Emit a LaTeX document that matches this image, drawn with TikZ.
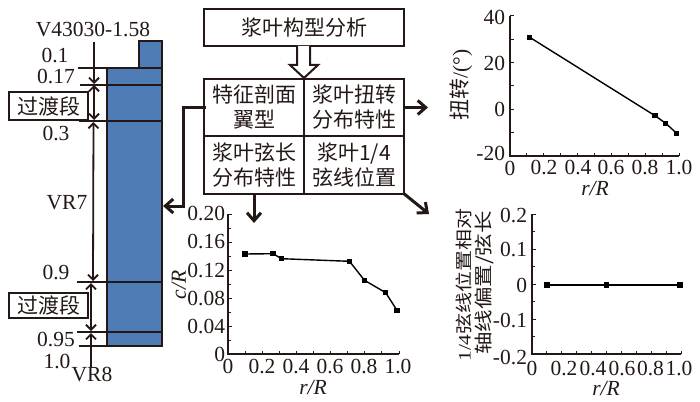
\documentclass[tikz,border=0pt]{standalone}
\usepackage{graphicx}
\usepackage{fontspec}
\setmainfont{Liberation Serif}
\newfontfamily\cjk{Noto Sans CJK SC}[Scale=1]
\usetikzlibrary{arrows.meta}
\definecolor{ink}{HTML}{231815}
\definecolor{bladeblue}{HTML}{4F7CB5}
\tikzset{
  every node/.style={text=ink,inner sep=0pt,outer sep=0pt},
  lbl/.style={font=\fontsize{21.5}{23}\selectfont},
  cn/.style={font=\cjk\fontsize{21}{25}\selectfont,align=center},
  ital/.style={font=\fontsize{21.5}{23}\selectfont\itshape},
  boxed/.style={draw=ink,line width=2pt,fill=white},
  cell/.style={draw=ink,line width=2pt,fill=white,minimum width=100pt,minimum height=57.5pt,font=\cjk\fontsize{21}{25}\selectfont,align=center},
  boldplain/.style={draw=ink,line width=3pt,line cap=rect},
  bold/.style={draw=ink,line width=3pt,-{Straight Barb[length=8pt,width=14pt,line width=3pt]}},
  dim/.style={draw=ink,line width=1.8pt,-{Straight Barb[length=5pt,width=10pt,line width=1.8pt]}},
  dimb/.style={draw=ink,line width=1.8pt,{Straight Barb[length=5pt,width=10pt,line width=1.8pt]}-{Straight Barb[length=5pt,width=10pt,line width=1.8pt]}},
  blade/.style={draw=ink,line width=2pt},
  ax/.style={draw=ink,line width=1.2pt},
  tk/.style={draw=ink,line width=1pt},
  curve/.style={draw=black,line width=1.4pt},
  pt/.style={fill=black,minimum size=5.5pt,inner sep=0pt,rectangle}
}
\begin{document}
\begin{tikzpicture}[x=1pt,y=-1pt]
\useasboundingbox (0,0) rectangle (700,401);
% blade
\draw[blade,fill=bladeblue] (139,41) rectangle (162,68);
\draw[blade,fill=bladeblue] (107,68) rectangle (162,346);
\foreach \y/\a in {85/80,121/79,282/77,332/77}{\draw[blade] (\a,\y) -- (162,\y);}
\draw[blade,line width=1.4pt] (78,68) -- (107,68);
\draw[blade,line width=1.4pt] (79,346) -- (107,346);
% dimension lines
\coordinate (d0) at (94,42); \coordinate (d1) at (94,84);
\coordinate (d2) at (94,85); \coordinate (d3) at (94,120);
\coordinate (d4) at (93.5,122); \coordinate (d5) at (93,281);
\coordinate (d6) at (91,283); \coordinate (d7) at (91,331);
\coordinate (d8) at (91,333); \coordinate (d9) at (91,368);
\draw[dim] (d0) -- (d1);
\draw[dimb] (d2) -- (d3);
\draw[dimb] (d4) -- (d5);
\draw[dimb] (d6) -- (d7);
\draw[dim] (d9) -- (d8);
% left labels
\node[lbl] (vtop) at (93,30) {V43030-1.58};
\node[lbl] (l1) at (55,56) {0.1};
\node[lbl] (l2) at (56,77) {0.17};
\node[lbl] (l3) at (56,134) {0.3};
\node[lbl] (vr7) at (67,203) {VR7};
\node[lbl] (l4) at (56,272) {0.9};
\node[lbl] (l5) at (56,339) {0.95};
\node[lbl] (l6) at (57,361) {1.0};
\node[lbl] (vr8) at (92,375) {VR8};
\node[boxed,cn,minimum width=79pt,minimum height=27pt] (t1) at (48.5,106) {过渡段};
\node[boxed,cn,minimum width=79pt,minimum height=25pt] (t2) at (48.5,305.5) {过渡段};
% top box
\node[boxed,cn,minimum width=200pt,minimum height=37pt] (top) at (304,27.5) {浆叶构型分析};
\draw[draw=ink,line width=2pt,fill=white] (297,46) -- (297,65) -- (290,65) -- (304,78) -- (318,65) -- (310,65) -- (310,46);
% table
\node[cell] (c1) at (254,107.5) {特征剖面\\翼型};
\node[cell] (c2) at (354,107.5) {浆叶扭转\\分布特性};
\node[cell] (c3) at (254,165) {浆叶弦长\\分布特性};
\node[cell] (c4) at (354,165) {浆叶1/4\\弦线位置};
% arrows
\coordinate (a0) at (183,107.5);
\coordinate (a0b) at (183,206);
\coordinate (a1) at (163,206); \coordinate (a2) at (428,107.5);
\coordinate (a3) at (254,223); \coordinate (a4) at (429,214);
\draw[boldplain] (c1.west) -- (a0) -- (a0b);
\draw[bold] (a0b) -- (a1);
\draw[bold] (c2.east) -- (a2);
\draw[bold] (c3.south) -- (a3);
\draw[bold] (c4.south east) -- (a4);
% chart 1
\draw[ax] (228,214) -- (228,354) -- (399,354);
\foreach \i in {0,...,5}{\draw[tk] (228,214+28*\i) -- (232,214+28*\i);}
\foreach \i in {0,...,4}{\draw[tk] (228,228+28*\i) -- (230.5,228+28*\i);}
\foreach \i in {0,...,10}{\draw[tk] (228+17.1*\i,354) -- (228+17.1*\i,350.5);}
\foreach \t/\y in {0.20/214,0.16/242,0.12/270,0.08/298,0.04/326,0/354}{\node[lbl,anchor=east] at (225,\y) {\t};}
\foreach \t/\x in {0/228,0.2/262,0.4/296,0.6/330,0.8/364,1.0/398}{\node[lbl] at (\x,366) {\t};}
\node[ital] (x1) at (313,388) {r/R};
\node[ital,rotate=90] (y1) at (179,285) {c/R};
\coordinate (p1) at (245,254);\coordinate (p2) at (273,253.7);\coordinate (p3) at (281.5,258.7);\coordinate (p4) at (349.5,261.3);\coordinate (p5) at (364.5,280.3);\coordinate (p6) at (385.7,292.7);\coordinate (p7) at (397,310.3);
\draw[curve] (p1)--(p2)--(p3)--(p4)--(p5)--(p6)--(p7);
\foreach \p in {p1,p2,p3,p4,p5,p6,p7}{\node[pt] at (\p) {};}
% chart 2
\draw[ax] (510,16) -- (510,156) -- (679,156);
\foreach \i in {0,...,6}{\draw[tk] (510,16+23.33*\i) -- (514,16+23.33*\i);}
\foreach \i in {0,...,10}{\draw[tk] (510+16.9*\i,156) -- (510+16.9*\i,152.5);}
\foreach \t/\y in {40/17,20/63,0/109,-20/153}{\node[lbl,anchor=east] at (505,\y) {\t};}
\foreach \t/\x in {0/510,0.2/544,0.4/578,0.6/611,0.8/645,1.0/679}{\node[lbl] at (\x,168) {\t};}
\node[ital] (x2) at (595,189) {r/R};
\node[lbl,rotate=90] (y2) at (461,85) {{\cjk\fontsize{21}{23}\selectfont 扭转}/(°)};
\coordinate (q1) at (529.7,37.3);\coordinate (q2) at (655,115.7);\coordinate (q3) at (665.7,123.3);\coordinate (q4) at (676.7,133.3);
\draw[curve] (q1)--(q2)--(q3)--(q4);
\foreach \p in {q1,q2,q3,q4}{\node[pt] at (\p) {};}
% chart 3
\draw[ax] (532,214) -- (532,354) -- (681,354);
\foreach \i in {0,...,4}{\draw[tk] (532,214+35*\i) -- (536,214+35*\i);}
\foreach \i in {0,...,3}{\draw[tk] (532,231.5+35*\i) -- (534.5,231.5+35*\i);}
\foreach \i in {0,...,10}{\draw[tk] (532+14.9*\i,354) -- (532+14.9*\i,350.5);}
\foreach \t/\y in {0.2/216,0.1/250,0/285,-0.1/320,-0.2/357}{\node[lbl,anchor=east] at (527,\y) {\t};}
\foreach \t/\x in {0/532,0.2/564,0.4/593,0.6/622,0.8/650.5,1.0/679}{\node[lbl] at (\x,368) {\t};}
\node[ital] (x3) at (606,389) {r/R};
\node[lbl,rotate=90] (y3a) at (464,285) {\scalebox{1}[0.82]{1/4{\cjk\fontsize{21}{23}\selectfont 弦线位置相对}}};
\node[lbl,rotate=90] (y3b) at (484,283) {\scalebox{1}[0.82]{\cjk\fontsize{22.5}{23}\selectfont 轴线偏置/弦长}};
\coordinate (s1) at (547,285);\coordinate (s2) at (606.3,285);\coordinate (s3) at (680,285);
\draw[curve,line width=1.8pt] (s1)--(s2)--(s3);
\foreach \p in {s1,s2,s3}{\node[pt] at (\p) {};}
\end{tikzpicture}
\end{document}
